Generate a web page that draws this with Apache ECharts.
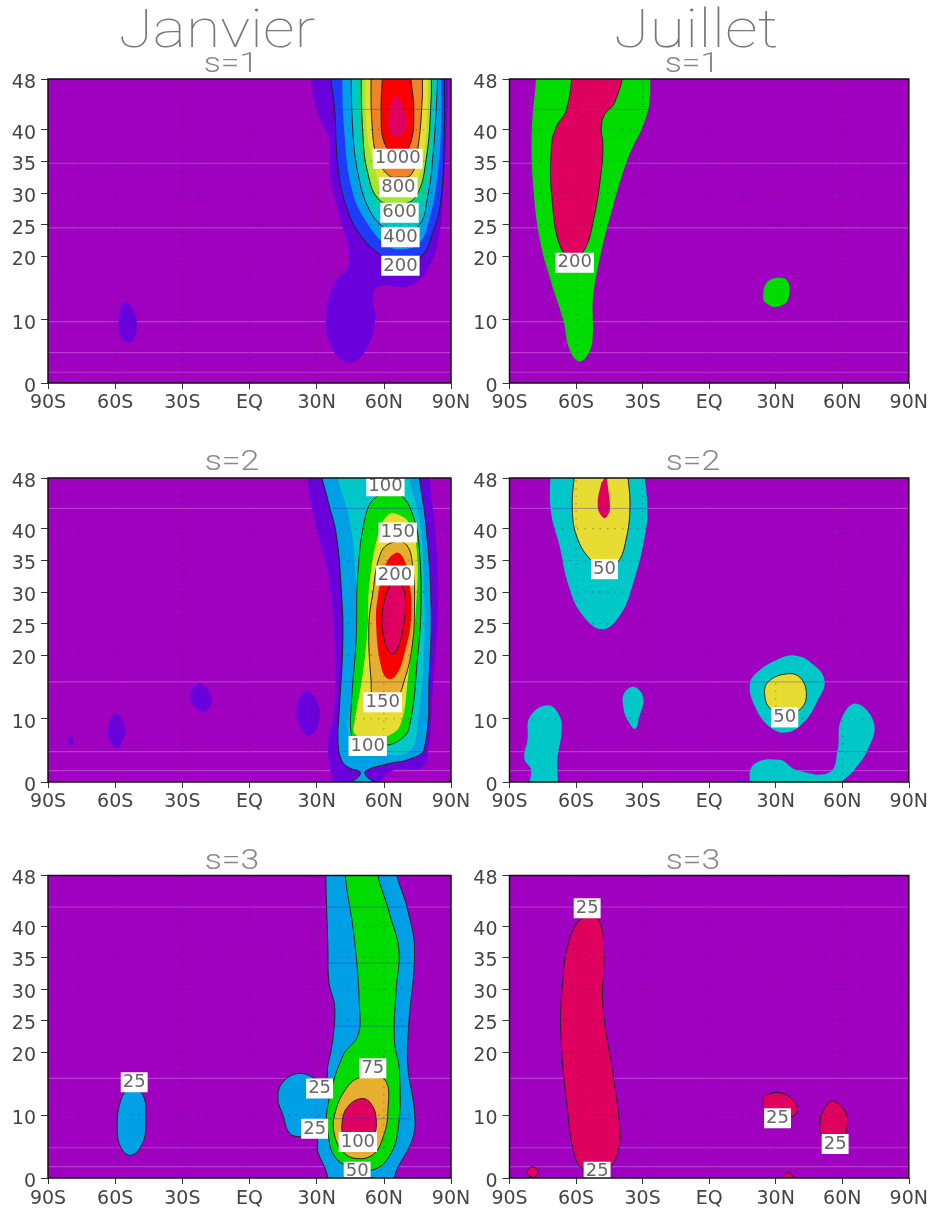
<!DOCTYPE html>
<html><head><meta charset="utf-8">
<style>html,body{margin:0;padding:0;background:#fff}#c{width:931px;height:1209px}</style>
<script src="https://cdn.jsdelivr.net/npm/echarts@6/dist/echarts.min.js"></script>
</head><body><div id="c"></div>
<script>
// ---------- axis ticks ----------
const latTicks = [0,10,20,25,30,35,40,48];
const lonTicks = [-90,-60,-30,0,30,60,90];
const lonTickLabels = ['90S','60S','30S','EQ','30N','60N','90N'];
const columnTitles = ['Janvier','Juillet'];
const panelTitles = ['s=1','s=1','s=2','s=2','s=3','s=3'];

// ---------- colour levels ----------
const PURPLE='#a000c0',VIOLET='#6a00dc',BLUE='#1e3cff',SKY='#00a0e6',CYAN='#00c8c8',TEAL='#00d28c',
      GREEN='#00dc00',LIME='#a0e632',YELLOW='#e6dc32',GOLD='#e6af2d',ORANGE='#f08228',RED='#fa0000',CRIMSON='#e0005f';

// ---------- Janvier s=1 contours [lon, level] ----------
const j1Violet=[[26.8,50],[30.5,42.6],[35.7,38.4],[35.7,33.2],[40.2,26.3],[43.9,21.6],[43.9,18.4],[37.2,15.3],[34,10],[37.2,5.3],[44.7,3.2],[52.1,5.3],[56.1,10],[55.1,13.7],[58,15.3],[71.4,15.3],[80.3,18.4],[84.8,23.7],[86.3,28.9],[88.5,44.7],[88.5,50]];
const j1Blob=[[-55.7,12.9],[-52,11.6],[-50.2,9.2],[-52,6.8],[-54.2,6.3],[-57.2,7.1],[-58.6,9.2],[-57.6,11.8]];
const j1Blue=[[36,50],[38,43.2],[39.5,34.2],[43.2,27.9],[49.9,23.2],[59.5,20],[67,18.9],[76.6,20],[81.8,23.7],[85.5,28.9],[87,39.5],[87,50]];
const j1Sky=[[41.4,50],[42.4,39.5],[46.2,30],[53.6,24.7],[61,21.8],[67.7,21.1],[75.9,22.1],[80.3,25.8],[83.3,31.1],[85.5,39.5],[85.5,50]];
const j1Cyan=[[45.4,50],[46.2,39.5],[48.4,33.2],[52.8,27.9],[59.5,24.7],[67,23.7],[75.9,25],[79.6,29.5],[81.8,35.3],[83.6,44.7],[84.1,50]];
const j1Teal=[[48.4,50],[49.9,35.8],[54.3,30.3],[59.5,26.8],[67,25.8],[75.1,27.6],[79.6,33.2],[81.8,44.7],[81.8,50]];
const j1Lime=[[49.9,50],[50.6,39.5],[52.8,33.2],[58,28.9],[67,28.2],[74.4,29.5],[78.9,35.3],[81.1,44.7],[81.1,50]];
const j1Yellow=[[51.8,50],[52.5,39.5],[55.8,34.2],[59.5,30.5],[67,29.5],[73.7,31.1],[78.1,36.8],[79.6,44.7],[79.6,50]];
const j1Orange=[[54.3,50],[54.8,40.5],[57.3,35.3],[62.5,32.7],[66.2,32.5],[72.2,32.9],[75.1,36.8],[77.1,44.7],[77.1,50]];
const j1Red=[[59.5,50],[58.8,42.6],[60.3,37.9],[66.2,35.8],[71.4,37.4],[73.4,42.6],[71.7,50]];
const j1Crimson=[[65.5,45.3],[62.5,42.6],[62.5,40],[65.8,38.8],[69.6,40],[69.6,42.6]];

// ---------- Juillet s=1 ----------
const k1Green=[[-77.8,50],[-80,39.5],[-79.3,31.1],[-76.3,22.6],[-71.1,15.8],[-65.8,10],[-62.9,5.3],[-58.4,3.4],[-53.9,5],[-52.4,7.9],[-52.4,13.2],[-49.4,19.5],[-44.2,26.8],[-36.8,35.3],[-29.3,41.1],[-26.8,44.7],[-26.8,50]];
const k1Crimson=[[-61.8,50],[-64.3,43.2],[-68.8,40.5],[-71.1,37.4],[-70.8,28.9],[-66.6,21.1],[-60.6,20],[-56.1,21.1],[-52.4,25.3],[-48.7,33.2],[-47.9,37.9],[-48.7,40],[-47.2,42.4],[-42.7,44.2],[-38.6,50]];
const k1Blob=[[26.6,16.1],[34.8,16.3],[35.6,13.2],[30.3,12],[26.6,12.4],[24.4,13.4]];

// ---------- Janvier s=2 ----------
const j2Violet=[[25.3,50],[29.1,41.3],[35,32.9],[38,22.4],[38,11.9],[35,5.6],[37.2,-1],[58,-1],[64,1.8],[76.6,2.2],[79.6,4.5],[81.8,14.5],[84.1,27.7],[83.3,38.2],[80.3,50]];
const j2Sky=[[31.7,50],[35,44.5],[38.7,39.2],[41,30.3],[41.7,22.4],[40.2,11.9],[39.5,6.6],[41,3.5],[44.7,2.2],[49.4,1.6],[48.4,0.7],[41.7,-1],[59.5,-1],[52.8,0.7],[51.8,1.7],[61,2.8],[72.2,3.7],[78.1,5.3],[80.3,17.1],[81.1,27.7],[78.9,40.3],[75.6,50]];
const j2Cyan=[[38.7,50],[44.7,41.3],[47.3,32.9],[47.3,22.4],[45,11.9],[43.9,8.2],[46.2,6.4],[59.5,4.5],[71.4,4.8],[75.1,9.3],[78.1,22.4],[77.7,32.9],[76.2,40.8],[70.7,50]];
const j2Green=[[56.6,45],[52.1,42.4],[48.4,32.9],[47.6,22.4],[45.4,11.9],[45.4,7.7],[47.6,6.4],[59.5,5.8],[67,6.6],[71.4,8.7],[75.1,19.8],[76.6,27.7],[75.9,36.6],[73.7,41.3],[68.5,45],[62.5,45.5]];
const j2Yellow=[[62.5,42.3],[58,39.7],[53.6,31.3],[52.8,24.5],[50.6,17.1],[46.9,9.3],[46.9,7.7],[52.1,6.9],[62.5,7.4],[67.7,9.3],[70.7,16.1],[74.4,27.7],[74.7,36.6],[71.4,40.8],[67,42.1]];
const j2Gold=[[64.7,37.9],[58.8,36.3],[54.8,29.2],[53.3,24.5],[54.3,16.1],[55.8,13.5],[65.5,13.5],[69.2,16.1],[72.6,21.3],[73.7,27.7],[72.9,34],[70.2,37.4]];
const j2Red=[[65.5,36.2],[61,34.5],[57.3,29.2],[56.6,24.5],[58.8,18.2],[61.8,16.3],[65.5,16.9],[69.2,20.3],[72.2,26.1],[71.1,32.4],[68.5,35.5]];
const j2Crimson=[[64.7,31.6],[61.8,30.3],[59.2,26.1],[60.3,22.4],[63.3,20.2],[66.2,21.1],[69.2,25.5],[69.6,29.2],[67.7,31.3]];
const j2BlobA=[[-21.8,15.6],[-17,13.5],[-18.5,11.4],[-21.5,11.1],[-26.7,13.2],[-25.2,14.8]];
const j2BlobB=[[26.1,14.4],[30.5,12.4],[31.3,10.3],[29.1,7.9],[25.3,7.4],[21.9,9.3],[20.9,11.4],[23.1,13.7]];
const j2BlobC=[[-60.1,10.8],[-56.1,9.3],[-56.1,7.1],[-59.1,5.3],[-62.4,6.6],[-63.1,8.7]];
const j2BlobD=[[-79.9,7.3],[-78.7,6.4],[-79.9,5.6],[-80.9,6.4]];

// ---------- Juillet s=2 ----------
const k2CyanTop=[[-71.4,50],[-71.4,42.9],[-67.3,37.1],[-63.6,31.3],[-57.6,26.6],[-48.2,24.1],[-39.7,26.6],[-33.8,31.9],[-29.3,38.2],[-27.8,42.9],[-29.3,50]];
const k2YellowTop=[[-60.6,50],[-61.7,42.9],[-59.1,38.2],[-52.4,34.7],[-47.2,33.7],[-41.2,34.7],[-37.5,38.2],[-35.7,43.4],[-36.8,50]];
const k2CrimsonTop=[[-47.5,50],[-47.5,47.9],[-48.7,47.1],[-50.2,43.4],[-47.5,41.7],[-45.7,42.1],[-44.7,43.4],[-46,47.9],[-46,50]];
const k2CyanMid=[[37.8,20],[45.3,19],[52,16.1],[48.2,12.4],[42.3,9.3],[34.8,7.8],[27.4,8.7],[20.7,11.9],[18.4,15.6],[22.9,17.7],[31.8,19.5]];
const k2YellowMid=[[35.6,17.1],[41.5,16.3],[43.8,13.5],[40.8,11.4],[34.1,10.6],[28.1,11.4],[25.1,13.5],[26.6,15.8]];
const k2CyanSmall=[[-33.8,15],[-29.6,13.2],[-31.5,10.3],[-33.3,8.4],[-36.8,9.8],[-38.7,11.9],[-38.3,14]];
const k2CyanLeft=[[-72.6,12.1],[-67.3,10.3],[-66.6,7.7],[-68.4,3.5],[-68.1,-1],[-81.5,-1],[-80.3,1.9],[-83.3,3.7],[-81.9,6.6],[-80.8,10.3]];
const k2CyanRight=[[18.4,-1],[19.9,2.7],[31.8,3.5],[39.3,1.9],[54.2,1.5],[57.9,5],[59.4,9.8],[66.1,12.4],[74.3,9.3],[71.4,5],[65.4,1.9],[58.7,-1]];

// ---------- Janvier s=3 ----------
const j3Sky=[[34,50],[35,36.7],[35.5,31],[38,27.3],[37.2,22],[35,17.8],[33.5,15.5],[22.4,16.6],[14.9,15.2],[12.7,12.6],[14.9,10],[17.9,7.1],[23.1,6.5],[29.8,6.3],[30.5,4.2],[34.3,1],[35,-1],[64.7,-1],[65.5,1],[72.9,6.3],[73.7,10.5],[70.7,17.8],[71.1,24.1],[73.7,36.2],[70.7,42.5],[65,50]];
const j3Green=[[42.4,50],[46.9,37.8],[49.1,27.3],[48.4,22.6],[41.7,19.4],[35,11.5],[35,7.3],[38.7,3.1],[47.6,1.6],[55.1,1.3],[61.8,3.1],[66.2,7.3],[67,16.8],[64.7,22],[65.5,29.9],[66.7,36.2],[62.5,42],[56.6,50]];
const j3Gold=[[49.9,16],[43.2,14.2],[38,10],[38,6.8],[41.7,4.2],[47.6,3.1],[55.1,3.7],[59.5,6.3],[61.8,10.5],[60.3,15.7]];
const j3Crimson=[[49.9,12.6],[43.9,11.3],[41.4,8.9],[42.4,6.8],[48.4,6.3],[55.1,6.8],[56.6,9.2],[54.3,11.8]];
const j3Blob=[[-52.7,14.2],[-47.5,13.1],[-46.4,9.4],[-47.5,5.8],[-52.7,3.6],[-57.2,4.7],[-59.1,7.9],[-57.2,12.6]];

// ---------- Juillet s=3 ----------
const k3Main=[[-54.7,41.7],[-49.4,40.7],[-47.5,35.7],[-47.9,27.3],[-43.5,16.8],[-40.5,8.9],[-40.5,5.2],[-44.2,1.8],[-50.2,0.5],[-57.6,1.6],[-61.4,4.7],[-63.6,10],[-66.6,21],[-66.3,29.9],[-62.1,38.8]];
const k3BlobA=[[-79.7,1.8],[-77,1],[-79.3,0.1],[-82.2,0.9]];
const k3BlobB=[[35.6,0.9],[38.6,-1],[32.6,-1]];
const k3BlobC=[[25.1,13.1],[33.3,13.4],[39.7,11.3],[37.1,9.7],[25.1,11],[24.4,12.1]];
const k3BlobD=[[55.7,12.2],[60.9,10.8],[62.4,8.9],[60.2,6.6],[51.2,6.6],[50,8.9],[52,11]];

// ---------- contour labels [lon, level, text] ----------
const j1Labels=[[66.2,35.4,'1000'],[66.5,30.9,'800'],[67,26.9,'600'],[67.4,23,'400'],[67.4,18.5,'200']];
const k1Labels=[[-60.6,19,'200']];
const j2Labels=[[60.7,46.7,'100'],[66.2,39.4,'150'],[65,32.6,'200'],[59.5,12.6,'150'],[52.8,5.7,'100']];
const k2Labels=[[-47.2,33.6,'50'],[34.1,10.2,'50']];
const j3Labels=[[-51.5,15.2,'25'],[31.3,14.2,'25'],[29.1,7.8,'25'],[55.1,17.4,'75'],[48.4,5.7,'100'],[48.1,1,'50']];
const k3Labels=[[-55,42.8,'25'],[-50.5,1,'25'],[30.8,9.5,'25'],[56.8,5.4,'25']];

// ---------- faint horizontal streaks ----------
const streaksA=[34.7,24.5,9.7,4.8,1.7];
const streaksB=[43.2,15.8,4.8,1.8];
const streaksC=[43,15.8,4.8,1.8];
const overlayA=[[43.2,38,88]];
const overlayB=[[43.2,-79,-27,1]];
const overlayC=[[43.2,37,77],[15.8,40,77],[4.8,42,77]];
const overlayD=[[43.2,-71,-28],[15.8,18,52],[4.8,58,72]];
const overlayE=[[43,34,70],[34.1,35,73],[24.1,38,71],[9.4,35,72]];
const overlayF=[];

const panels=[
 {streaks:streaksA,overlay:overlayA,labels:j1Labels,layers:[[j1Violet,VIOLET],[j1Blob,VIOLET],[j1Blue,BLUE,1],[j1Sky,SKY],[j1Cyan,CYAN,1],[j1Teal,TEAL],[j1Lime,LIME,1],[j1Yellow,YELLOW],[j1Orange,ORANGE,1],[j1Red,RED,1],[j1Crimson,CRIMSON]]},
 {streaks:streaksA,overlay:overlayB,labels:k1Labels,layers:[[k1Green,GREEN],[k1Blob,GREEN],[k1Crimson,CRIMSON,1]]},
 {streaks:streaksB,overlay:overlayC,labels:j2Labels,layers:[[j2BlobA,VIOLET],[j2BlobB,VIOLET],[j2BlobC,VIOLET],[j2BlobD,VIOLET],[j2Violet,VIOLET],[j2Sky,SKY,1],[j2Cyan,CYAN],[j2Green,GREEN,1],[j2Yellow,YELLOW],[j2Gold,GOLD,1],[j2Red,RED],[j2Crimson,CRIMSON,1]]},
 {streaks:streaksB,overlay:overlayD,labels:k2Labels,layers:[[k2CyanTop,CYAN],[k2YellowTop,YELLOW,1],[k2CrimsonTop,CRIMSON],[k2CyanMid,CYAN],[k2YellowMid,YELLOW,1],[k2CyanSmall,CYAN],[k2CyanLeft,CYAN],[k2CyanRight,CYAN]]},
 {streaks:streaksC,overlay:overlayE,labels:j3Labels,layers:[[j3Blob,SKY,1],[j3Sky,SKY,1],[j3Green,GREEN,1],[j3Gold,GOLD,1],[j3Crimson,CRIMSON,1]]},
 {streaks:streaksC,overlay:overlayF,labels:k3Labels,layers:[[k3Main,CRIMSON,1],[k3BlobA,CRIMSON,1],[k3BlobB,CRIMSON,1],[k3BlobC,CRIMSON,1],[k3BlobD,CRIMSON,1]]}
];

const gridBoxes=[[48,79,403,304],[509.5,79,402,304],[48,478,403,304],[509.5,478,402,304],[48,875.5,403,304.5],[509.5,875.5,402,304.5]];
const titleBoxes=[[231,65],[692,65],[232,463],[693,463],[232,862],[693,862]];
const FONT='"DejaVu Sans"';

// Contours that leave the plot through the top or bottom run straight past the edge,
// so the curve smoothing does not bend them inside the frame.
function runPastEdges(pts){
  const out=[];
  pts.forEach((p,i)=>{
    const q=pts[(i+1)%pts.length];
    out.push(p);
    if(p[1]>=50&&q[1]>=50){out.push([p[0],70],[q[0],70]);}
    if(p[1]<=-1&&q[1]<=-1){out.push([p[0],-14],[q[0],-14]);}
  });
  return out;
}

const grids=[],xAxes=[],yAxes=[],series=[],graphics=[];
const thinText=(text,x,y,size,weight,sx,color)=>({type:'text',x,y,scaleX:sx,silent:true,z:10,
  style:{text,x:0,y:0,align:'center',verticalAlign:'middle',fontFamily:'Roboto',fontWeight:weight,fontSize:size,fill:color}});
columnTitles.forEach((t,i)=>graphics.push(thinText(t,[217,696][i],33,54,100,[1.16,1.2][i],'#777')));
panels.forEach((p,k)=>{
  const b=gridBoxes[k];
  const row=Math.floor(k/2);
  grids.push({left:b[0],top:b[1],width:b[2],height:b[3],show:true,backgroundColor:PURPLE,borderWidth:0});
  graphics.push(thinText(panelTitles[k],titleBoxes[k][0],titleBoxes[k][1],27,300,1.25,'#888'));
  xAxes.push({type:'value',gridIndex:k,min:-90,max:90,interval:30,
    axisLine:{show:false,onZero:false},axisTick:{length:6,lineStyle:{color:'#333'}},splitLine:{show:false},
    axisLabel:{margin:row===2?12:11,fontFamily:FONT,fontSize:19,color:'#444',showMinLabel:true,showMaxLabel:true,
      hideOverlap:false,formatter:v=>lonTickLabels[lonTicks.indexOf(v)]}});
  yAxes.push({type:'value',gridIndex:k,min:0,max:48,interval:1,
    axisLine:{show:false,onZero:false},axisTick:{length:7,customValues:latTicks,lineStyle:{color:'#333'}},splitLine:{show:false},
    axisLabel:{margin:12,fontFamily:FONT,fontSize:19,color:'#444',customValues:latTicks,verticalAlign:'top',lineHeight:8}});
  const marks=[];
  p.streaks.forEach(l=>marks.push({kind:'streak',lat:l}));
  p.layers.forEach(l=>marks.push({kind:'poly',pts:runPastEdges(l[0]),color:l[1],contour:!!l[2]}));
  p.overlay.forEach(o=>marks.push({kind:'over',lat:o[0],a:o[1],b:o[2],grey:!!o[3]}));
  latTicks.slice(1,-1).forEach(l=>marks.push({kind:'dotH',lat:l}));
  lonTicks.slice(1,-1).forEach(l=>marks.push({kind:'dotV',lon:l}));
  p.labels.forEach(l=>marks.push({kind:'label',lon:l[0],lat:l[1],text:l[2]}));
  const line=(a,b,style)=>({type:'line',shape:{x1:a[0],y1:a[1],x2:b[0],y2:b[1]},style});
  series.push({type:'custom',xAxisIndex:k,yAxisIndex:k,clip:true,silent:true,animation:false,
    data:marks.map((_,i)=>[i]),encode:{x:-1,y:-1},
    renderItem(params,api){
      const m=marks[params.dataIndex];
      if(m.kind==='poly')return{type:'polygon',shape:{points:m.pts.map(q=>api.coord(q)),smooth:0.42},
        style:{fill:m.color,stroke:m.contour?'#222':null,lineWidth:m.contour?1:0}};
      if(m.kind==='streak')return line(api.coord([-90,m.lat]),api.coord([90,m.lat]),{stroke:'rgba(255,255,255,0.24)',lineWidth:1.2});
      if(m.kind==='over')return line(api.coord([m.a,m.lat]),api.coord([m.b,m.lat]),{stroke:m.grey?'rgba(90,90,110,0.5)':'rgba(60,40,210,0.4)',lineWidth:1});
      if(m.kind==='dotH')return line(api.coord([-90,m.lat]),api.coord([90,m.lat]),{stroke:'rgba(60,50,60,0.35)',lineWidth:1.3,lineDash:[1.5,6]});
      if(m.kind==='dotV')return line(api.coord([m.lon,0]),api.coord([m.lon,48]),{stroke:'rgba(60,50,60,0.35)',lineWidth:1.3,lineDash:[1.5,6]});
      const c=api.coord([m.lon,m.lat]);
      return{type:'text',style:{text:m.text,x:c[0],y:c[1],align:'center',verticalAlign:'middle',
        fontFamily:FONT,fontSize:18,fill:'#666',backgroundColor:'#fff',padding:[1,2]}};
    }});
  series.push({type:'custom',xAxisIndex:k,yAxisIndex:k,clip:false,silent:true,animation:false,z:5,
    data:[[0]],encode:{x:-1,y:-1},
    renderItem(params,api){
      const a=api.coord([-90,48]),c=api.coord([90,0]);
      return{type:'rect',shape:{x:a[0],y:a[1],width:c[0]-a[0],height:c[1]-a[1]},
        style:{fill:null,stroke:'#111',lineWidth:1.5}};
    }});
});
const chart=echarts.init(document.getElementById('c'),null,{renderer:'canvas',width:931,height:1209});
chart.setOption({animation:false,backgroundColor:'#fff',graphic:graphics,grid:grids,xAxis:xAxes,yAxis:yAxes,series});
</script></body></html>
